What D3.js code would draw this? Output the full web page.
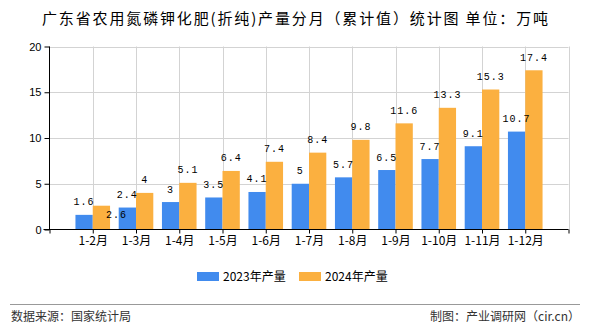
<!DOCTYPE html>
<html><head><meta charset="utf-8">
<script src="https://cdn.jsdelivr.net/npm/d3@7/dist/d3.min.js"></script>
<style>body{margin:0;background:#fff}svg{display:block}</style>
</head><body><svg id="c" width="590" height="330"></svg>
<script>
const categories = ["1-2月","1-3月","1-4月","1-5月","1-6月","1-7月","1-8月","1-9月","1-10月","1-11月","1-12月"];
const values2023 = [1.6,2.4,3,3.5,4.1,5,5.7,6.5,7.7,9.1,10.7];
const values2024 = [2.6,4,5.1,6.4,7.4,8.4,9.8,11.6,13.3,15.3,17.4];
const seriesNames = ["2023年产量","2024年产量"];
const yTicks = [0,5,10,15,20];
const colors = ["#418BEE","#FBB040"];

const svg = d3.select("#c");
const L=49.5, R=568.5, T=46.5, B=229.5;
const x = d3.scalePoint().domain(["_s",...categories,"_e"]).range([L,R]);
const y = d3.scaleLinear().domain([0,20]).range([B,T]);
const bw = 17.3;
const cjk = "'Noto Sans CJK SC', sans-serif";
const mono = "'Liberation Mono', 'DejaVu Sans Mono', monospace";

// title
svg.append("text").attr("x",295).attr("y",24).attr("text-anchor","middle")
  .attr("font-family",cjk).attr("font-size",15).attr("fill","#000")
  .attr("textLength",506).attr("lengthAdjust","spacing")
  .text("广东省农用氮磷钾化肥(折纯)产量分月（累计值）统计图 单位：万吨");

// grid
const g = svg.append("g");
g.selectAll(".hg").data(yTicks.filter(d=>d>0)).join("line")
  .attr("x1",L).attr("x2",R).attr("y1",d=>Math.round(y(d))+0.5).attr("y2",d=>Math.round(y(d))+0.5)
  .attr("stroke","#d3d3d3");
g.selectAll(".vg").data([...categories,"_e"]).join("line")
  .attr("x1",d=>Math.round(x(d))+0.5).attr("x2",d=>Math.round(x(d))+0.5).attr("y1",T).attr("y2",B)
  .attr("stroke","#d3d3d3");

// bars
const bars = svg.append("g");
[values2023, values2024].forEach((vals,si)=>{
  bars.selectAll(".b"+si).data(vals).join("rect")
    .attr("x",(d,i)=>x(categories[i]) + (si===0?-bw:0))
    .attr("width",bw)
    .attr("y",d=>y(d)).attr("height",d=>B-y(d))
    .attr("fill",colors[si]);
});

// axes
const ya = svg.append("g").attr("transform",`translate(${L},0)`)
  .call(d3.axisLeft(y).tickValues(yTicks).tickSize(5).tickPadding(3));
ya.select(".domain").attr("stroke","#000").attr("d",`M0,${T}V${B}`);
ya.selectAll("text").attr("font-family","'Liberation Sans', Arial, sans-serif").attr("font-size",11).attr("fill","#000");
ya.selectAll("line").attr("stroke","#000");

const xa = svg.append("g").attr("transform",`translate(0,${B})`)
  .call(d3.axisBottom(x).tickValues(["_s",...categories,"_e"]).tickSize(4).tickPadding(3).tickFormat(d=>categories.includes(d)?d:""));
xa.select(".domain").attr("stroke","#000").attr("stroke-width",1.2).attr("d",`M${L-6},0H${R}`);
xa.selectAll("line").attr("stroke","#000");
xa.selectAll("text").attr("font-family",cjk).attr("font-size",12).attr("fill","#000");

// data labels
const lab = svg.append("g").attr("font-family",mono).attr("font-size",10).attr("fill","#000").attr("text-anchor","middle");
[values2023, values2024].forEach((vals,si)=>{
  lab.selectAll(".l"+si).data(vals).join("text")
    .attr("x",(d,i)=>x(categories[i]) + (si===0?-bw/2:bw/2))
    .attr("y",(d,i)=> (si===1 && i===0) ? y(d)+12 : y(d)-9.5)
    .attr("dx",(d,i)=> (si===1 && i===0) ? 15 : 0)
    .attr("letter-spacing",1)
    .text(d=>d);
});

// legend
const lg = svg.append("g");
const lx = [197,299];
seriesNames.forEach((n,i)=>{
  lg.append("rect").attr("x",lx[i]).attr("y",272).attr("width",22).attr("height",9).attr("fill",colors[i]);
  lg.append("text").attr("x",lx[i]+26).attr("y",281).attr("font-family",cjk).attr("font-size",12).attr("fill","#000").text(n);
});

// footer
svg.append("line").attr("x1",10).attr("x2",580).attr("y1",304.5).attr("y2",304.5).attr("stroke","#999");
svg.append("text").attr("x",11).attr("y",321).attr("font-family",cjk).attr("font-size",12).attr("fill","#333").text("数据来源：国家统计局");
svg.append("text").attr("x",580).attr("y",321).attr("text-anchor","end").attr("font-family",cjk).attr("font-size",12).attr("fill","#333").text("制图：产业调研网（cir.cn）");
</script></body></html>
